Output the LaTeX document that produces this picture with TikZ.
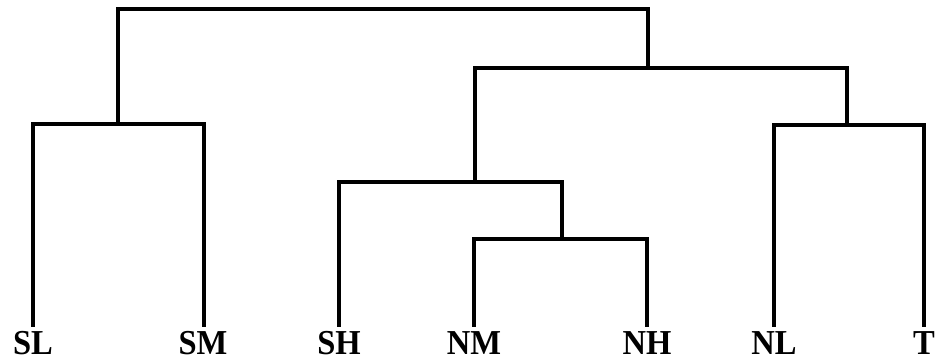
\documentclass[tikz,border=0pt]{standalone}
\usepackage{fontspec}
\setmainfont{Liberation Serif}
\begin{document}
\begin{tikzpicture}[x=1pt,y=-1pt,
  link/.style={line width=3.2pt,line join=miter,line cap=rect},
  lab/.style={font=\fontsize{35}{35}\selectfont\bfseries,inner sep=0pt,anchor=base,xscale=0.93}]
\useasboundingbox (0,0) rectangle (938,364);
% leaf labels
\node[lab] (SL) at (33,354) {SL};
\node[lab] (SM) at (203,354) {SM};
\node[lab] (SH) at (339,354) {SH};
\node[lab] (NM) at (474,354) {NM};
\node[lab] (NH) at (647,354) {NH};
\node[lab] (NL) at (774,354) {NL};
\node[lab] (T)  at (924,354) {T};
% leaf tops
\coordinate (tSL) at (33,325);
\coordinate (tSM) at (204,325);
\coordinate (tSH) at (339,325);
\coordinate (tNM) at (474,325);
\coordinate (tNH) at (647,325);
\coordinate (tNL) at (774,325);
\coordinate (tT)  at (924,325);
% joints
\coordinate (a) at (118,124);
\coordinate (b) at (562,239);
\coordinate (c) at (475,182);
\coordinate (d) at (847,125);
\coordinate (e) at (648,68);
\coordinate (f) at (383,9);
% links
\draw[link] (tSL) |- (a) -| (tSM);
\draw[link] (tNM) |- (b) -| (tNH);
\draw[link] (tSH) |- (c) -| (b);
\draw[link] (tNL) |- (d) -| (tT);
\draw[link] (c) |- (e) -| (d);
\draw[link] (a) |- (f) -| (e);
\end{tikzpicture}
\end{document}
